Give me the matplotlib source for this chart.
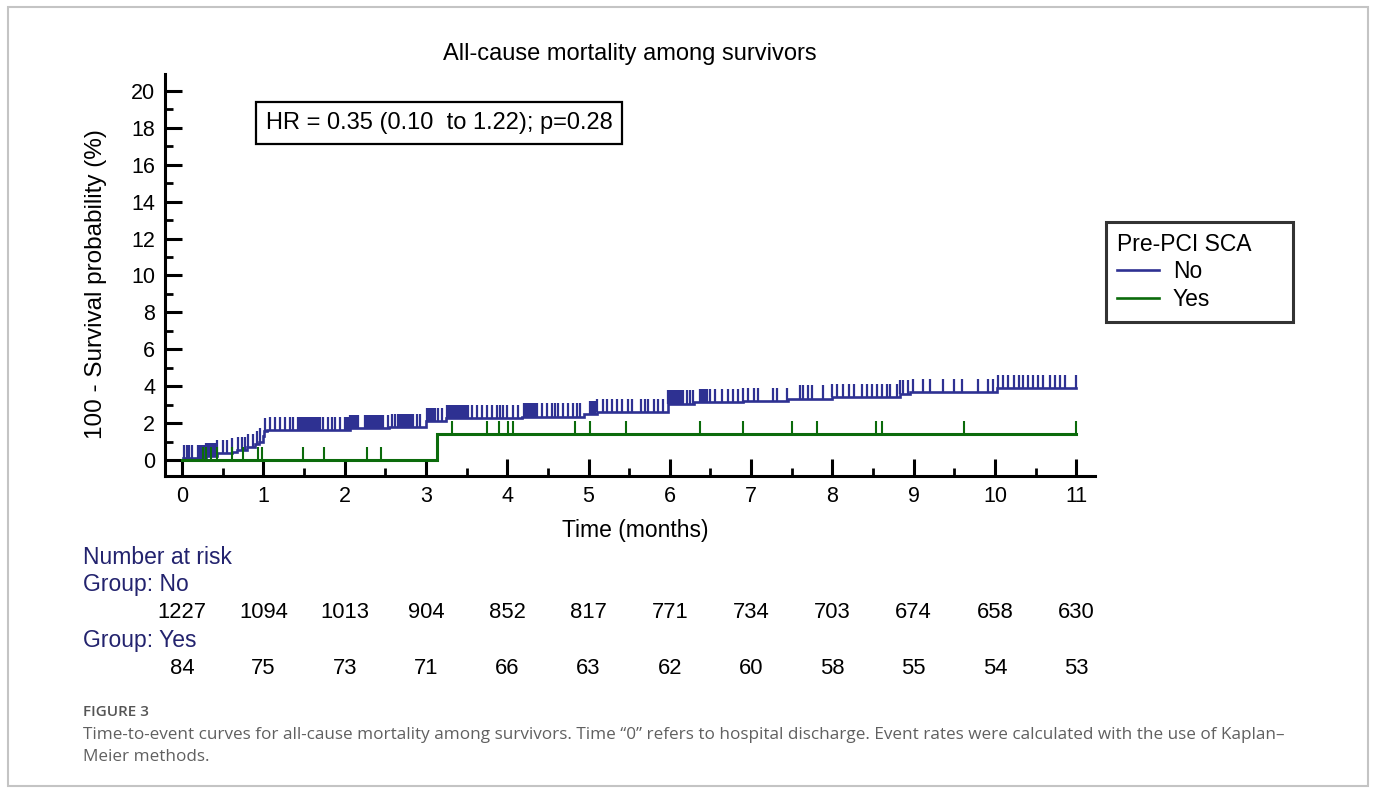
import matplotlib
matplotlib.use("Agg")
import matplotlib.pyplot as plt
import matplotlib.transforms as mtransforms
from matplotlib.patches import Rectangle
from matplotlib.lines import Line2D
import numpy as np

W, H, DPI = 1375, 792, 100

title = "All-cause mortality among survivors"
hr_text = "HR = 0.35 (0.10  to 1.22); p=0.28"
xlabel = "Time (months)"
ylabel = "100 - Survival probability (%)"
legend_title = "Pre-PCI SCA"
group_names = ["No", "Yes"]
caption_head = "FIGURE 3"
caption_lines = [
    "Time-to-event curves for all-cause mortality among survivors. Time \u201c0\u201d refers to hospital discharge. Event rates were calculated with the use of Kaplan\u2013",
    "Meier methods.",
]

x_ticks = list(range(0, 12))
y_ticks = list(range(0, 21, 2))

# Group "No": event step times (months) and cumulative mortality (%)
no_event_times = [0.00, 0.01, 0.30, 0.43, 0.62, 0.68, 0.80, 0.90, 0.95, 0.99, 1.01, 1.05,
                  2.07, 2.55, 3.00, 3.25, 4.18, 4.95, 5.10, 5.98, 6.30, 6.90, 7.45, 8.00,
                  8.83, 8.95, 10.03]
no_cum = [0.00, 0.10, 0.20, 0.35, 0.45, 0.55, 0.70, 0.85, 1.00, 1.30, 1.55, 1.62,
          1.72, 1.78, 2.10, 2.25, 2.35, 2.50, 2.60, 3.05, 3.12, 3.20, 3.32, 3.42,
          3.60, 3.66, 3.90]
no_censor = [0.02, 0.06, 0.09, 0.12, 0.20, 0.22, 0.24, 0.26, 0.28, 0.30, 0.32, 0.34, 0.36, 0.38, 0.40, 0.43,
             0.50, 0.55, 0.62, 0.69, 0.74, 0.78, 0.81, 0.87, 0.92, 0.96,
             1.02, 1.08, 1.14, 1.21, 1.27, 1.33, 1.37, 1.42, 1.44, 1.46, 1.48, 1.50, 1.52, 1.54, 1.56,
             1.58, 1.60, 1.62, 1.64, 1.66, 1.68, 1.70, 1.73, 1.80, 1.85, 1.88, 1.94, 2.01, 2.03, 2.05,
             2.07, 2.09, 2.11, 2.13, 2.15, 2.17,
             2.25, 2.27, 2.29, 2.31, 2.33, 2.35, 2.37, 2.39, 2.41, 2.43, 2.46, 2.47, 2.53, 2.58, 2.62,
             2.66, 2.68, 2.70, 2.72, 2.74, 2.76, 2.78, 2.80, 2.82, 2.84, 2.89, 2.93, 3.01, 3.03, 3.05,
             3.07, 3.09, 3.11, 3.15, 3.20, 3.26, 3.28, 3.30, 3.32, 3.34, 3.36, 3.38, 3.40, 3.42, 3.44,
             3.46, 3.48, 3.50, 3.52, 3.57, 3.63, 3.69, 3.75, 3.81, 3.88, 3.91, 3.95, 4.00, 4.07, 4.13,
             4.20, 4.22, 4.24, 4.26, 4.28, 4.30, 4.32, 4.34, 4.37, 4.43, 4.49,
             4.55, 4.59, 4.63, 4.69, 4.75, 4.81, 4.86, 4.90, 5.02, 5.04, 5.06, 5.08, 5.11, 5.18, 5.23,
             5.29, 5.35, 5.41, 5.48, 5.54, 5.64, 5.70, 5.73, 5.80, 5.86, 5.92, 5.98, 6.00, 6.02, 6.04,
             6.06, 6.08, 6.10, 6.12, 6.14, 6.16, 6.21, 6.25, 6.29, 6.37, 6.39, 6.41, 6.43, 6.46, 6.50,
             6.56, 6.64, 6.72, 6.78, 6.84,
             6.90, 6.96, 7.03, 7.09, 7.27, 7.32, 7.44, 7.60, 7.64, 7.70, 7.75, 7.88, 8.00, 8.06, 8.13,
             8.20, 8.26, 8.37, 8.43, 8.49, 8.55, 8.61, 8.67, 8.71, 8.80, 8.83, 8.87, 8.93, 8.99,
             9.11, 9.20, 9.36, 9.49, 9.60, 9.79, 9.91, 9.98, 10.04, 10.10, 10.16, 10.23, 10.29, 10.35,
             10.41, 10.47, 10.53, 10.59, 10.68, 10.74, 10.80, 10.86, 11.00]

# Group "Yes"
yes_event_times = [0.00, 3.14]
yes_cum = [0.00, 1.41]
yes_censor = [0.26, 0.30, 0.35, 0.43, 0.62, 0.75, 0.94, 0.98, 1.49, 1.75, 2.28, 2.45, 3.32, 3.75,
              3.90, 4.01, 4.07, 4.83, 5.02, 5.46, 6.37, 6.90, 7.50, 7.81, 8.54, 8.61, 9.62, 11.00]

risk_no = [1227, 1094, 1013, 904, 852, 817, 771, 734, 703, 674, 658, 630]
risk_yes = [84, 75, 73, 71, 66, 63, 62, 60, 58, 55, 54, 53]

end_time = 11.0
blue = "#2e3192"
green = "#0b6b0b"
navy = "#23236e"
FONT = ["Liberation Sans", "DejaVu Sans"]
plt.rcParams["font.family"] = FONT

fig = plt.figure(figsize=(W / DPI, H / DPI), dpi=DPI)
fig.patch.set_facecolor("white")

def fx(px):
    return px / W

def fy(py):
    return 1 - py / H

# outer frame
fig.add_artist(Rectangle((fx(8), fy(786)), fx(1368) - fx(8), fy(7) - fy(786),
                         transform=fig.transFigure, fill=False, edgecolor="#c4c4c4", lw=1.5))

ax_l, ax_r, ax_t, ax_b = 165, 1095, 74, 476
ax = fig.add_axes([fx(ax_l), fy(ax_b), fx(ax_r) - fx(ax_l), fy(ax_t) - fy(ax_b)])
ax.set_xlim(-0.21, 11.23)
ax.set_ylim(-0.87, 20.92)

def km_draw(times, cum, censor, color, lw, tick_lw):
    t = list(times) + [end_time]
    v = list(cum) + [cum[-1]]
    ax.step(t, v, where="post", color=color, lw=lw, solid_joinstyle="miter")
    ct = np.array(censor)
    idx = np.searchsorted(np.array(times), ct, side="right") - 1
    base = np.array(cum)[idx]
    ax.vlines(ct, base, base + 0.72, color=color, lw=tick_lw)

km_draw(no_event_times, no_cum, no_censor, blue, 1.9, 1.6)
km_draw(yes_event_times, yes_cum, yes_censor, green, 2.2, 1.5)

for s in ["top", "right"]:
    ax.spines[s].set_visible(False)
for s in ["left", "bottom"]:
    ax.spines[s].set_linewidth(2.2)

ax.set_xticks(x_ticks)
ax.set_xticks([x + 0.5 for x in x_ticks[:-1]], minor=True)
ax.set_yticks(y_ticks)
ax.set_yticks([y + 1 for y in y_ticks[:-1]], minor=True)
ax.tick_params(which="major", direction="in", length=12, width=2.2, labelsize=15.5, pad=7)
ax.tick_params(which="minor", direction="in", length=6, width=2.0)

fig.text(fx(630), fy(54), title, ha="center", va="center", fontsize=17)
fig.text(fx(635), fy(531), xlabel, ha="center", va="center", fontsize=16.5)
fig.text(fx(96), fy(284), ylabel, ha="center", va="center", rotation=90, fontsize=17.5)

fig.text(fx(439), fy(123), hr_text, ha="center", va="center", fontsize=17,
         bbox=dict(boxstyle="square,pad=0.42", facecolor="white", edgecolor="black", lw=1.6))

handles = [Line2D([0], [0], color=blue, lw=1.9), Line2D([0], [0], color=green, lw=1.9)]
leg = ax.legend(handles, group_names, title=legend_title, loc="upper left",
                bbox_to_anchor=(fx(1106), fy(318), fx(1293) - fx(1106), fy(222) - fy(318)),
                bbox_transform=fig.transFigure, mode="expand",
                fontsize=16.5, title_fontsize=16.5, frameon=True, fancybox=False,
                handlelength=1.85, handletextpad=0.6, borderpad=0.47, labelspacing=0.2,
                alignment="left", borderaxespad=0)
leg.get_frame().set_edgecolor("black")
leg.get_frame().set_linewidth(2.2)

# Number at risk table
fig.text(fx(83), fy(557), "Number at risk", ha="left", va="center", fontsize=16.5, color=navy)
fig.text(fx(83), fy(585), "Group: " + group_names[0], ha="left", va="center", fontsize=16.5, color=navy)
fig.text(fx(83), fy(641), "Group: " + group_names[1], ha="left", va="center", fontsize=16.5, color=navy)
trans = mtransforms.blended_transform_factory(ax.transData, fig.transFigure)
for x, n in zip(x_ticks, risk_no):
    fig.text(x, fy(613), str(n), transform=trans, ha="center", va="center", fontsize=15.8)
for x, n in zip(x_ticks, risk_yes):
    fig.text(x, fy(669), str(n), transform=trans, ha="center", va="center", fontsize=15.8)

# caption
cap_font = ["Open Sans", "DejaVu Sans"]
fig.text(fx(83), fy(712), caption_head, ha="left", va="center", fontsize=11,
         color="#555555", family=cap_font, fontweight="semibold")
fig.text(fx(83), fy(735), caption_lines[0], ha="left", va="center", fontsize=12.35,
         color="#606060", family=cap_font)
fig.text(fx(83), fy(757), caption_lines[1], ha="left", va="center", fontsize=12.35,
         color="#606060", family=cap_font)

fig.savefig("out.png", dpi=DPI, facecolor="white")
